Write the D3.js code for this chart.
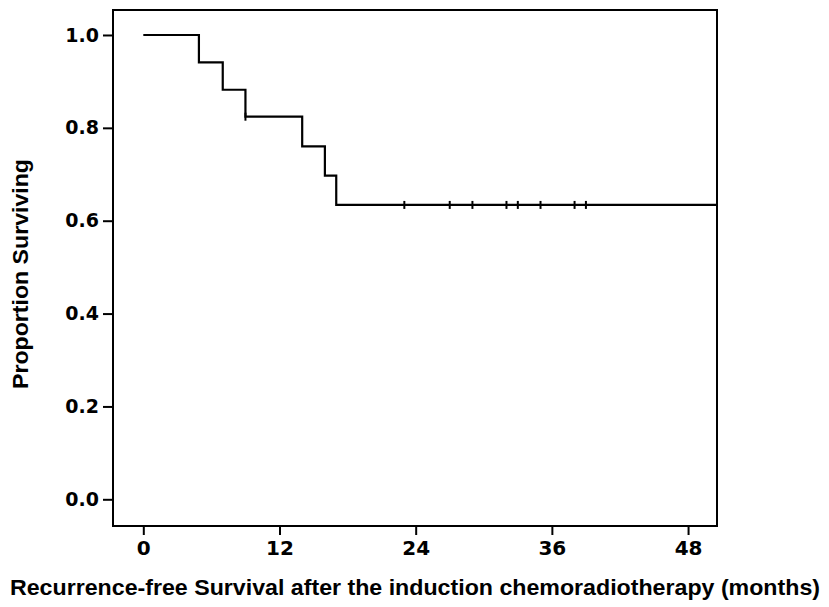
<!DOCTYPE html>
<html>
<head>
<meta charset="utf-8">
<script src="https://cdn.jsdelivr.net/npm/d3@7"></script>
<style>
  body { margin: 0; background: #fff; }
  svg { display: block; }
</style>
</head>
<body>
<svg id="chart"></svg>
<script>
// Kaplan-Meier steps (months, proportion surviving)
const stepTimes = [0, 4.9, 7, 9, 14, 16, 17];
const survival = [1.0, 0.941, 0.882, 0.824, 0.760, 0.697, 0.634];
// censored observations (months)
const censorTimes = [9, 23, 27, 29, 32, 33, 35, 38, 39];
const lastFollowUp = 50.6;

const xTicks = [0, 12, 24, 36, 48];
const yTicks = [0.0, 0.2, 0.4, 0.6, 0.8, 1.0];

const xTitle = "Recurrence-free Survival after the induction chemoradiotherapy (months)";
const yTitle = "Proportion Surviving";

const width = 829;
const height = 607;
const margin = { top: 10, right: 112, bottom: 81, left: 113 };
const innerWidth = width - margin.left - margin.right;
const innerHeight = height - margin.top - margin.bottom;

const svg = d3.select("#chart").attr("width", width).attr("height", height);

const g = svg.append("g")
  .attr("transform", `translate(${margin.left},${margin.top})`);

// Scales
const x = d3.scaleLinear().domain([-2.67, 50.55]).range([0, innerWidth]);
const y = d3.scaleLinear().domain([-0.0575, 1.0538]).range([innerHeight, 0]);

// Axes
const yAxis = g.append("g")
  .call(d3.axisLeft(y).tickValues(yTicks).tickFormat(d3.format(".1f"))
    .tickSize(10).tickPadding(4));
const xAxis = g.append("g")
  .attr("transform", `translate(0,${innerHeight})`)
  .call(d3.axisBottom(x).tickValues(xTicks).tickSize(9).tickPadding(6));

[xAxis, yAxis].forEach(a => {
  a.attr("font-family", "'DejaVu Sans', sans-serif")
    .attr("font-size", 19)
    .attr("font-weight", "bold");
  a.select(".domain").remove();
  a.selectAll(".tick line").attr("stroke", "#000").attr("stroke-width", 2);
  a.selectAll(".tick text").attr("fill", "#000");
});
xAxis.attr("font-size", 20);
yAxis.selectAll(".tick text").attr("text-anchor", "end");
xAxis.selectAll(".tick text").attr("text-anchor", "middle");

// Frame
g.append("rect")
  .attr("width", innerWidth)
  .attr("height", innerHeight)
  .attr("fill", "none")
  .attr("stroke", "#000")
  .attr("stroke-width", 2);

// Survival curve
const pts = stepTimes.map((t, i) => [t, survival[i]]);
pts.push([lastFollowUp, survival[survival.length - 1]]);

const line = d3.line()
  .x(d => x(d[0]))
  .y(d => y(d[1]))
  .curve(d3.curveStepAfter);

g.append("defs").append("clipPath").attr("id", "clip")
  .append("rect").attr("width", innerWidth).attr("height", innerHeight);

g.append("path")
  .datum(pts)
  .attr("clip-path", "url(#clip)")
  .attr("fill", "none")
  .attr("stroke", "#000")
  .attr("stroke-width", 2.2)
  .attr("d", line);

// Censor marks
const survAt = t => survival[d3.bisectRight(stepTimes, t) - 1];
g.selectAll(".censor")
  .data(censorTimes)
  .join("line")
  .attr("class", "censor")
  .attr("x1", d => x(d))
  .attr("x2", d => x(d))
  .attr("y1", d => y(survAt(d)) - 4)
  .attr("y2", d => y(survAt(d)) + 4)
  .attr("stroke", "#000")
  .attr("stroke-width", 2);

// Axis titles
svg.append("text")
  .attr("x", 415)
  .attr("y", 595)
  .attr("text-anchor", "middle")
  .attr("textLength", 810)
  .attr("lengthAdjust", "spacingAndGlyphs")
  .attr("font-family", "'Liberation Sans', Arial, sans-serif")
  .attr("font-weight", "bold")
  .attr("font-size", 22)
  .text(xTitle);

svg.append("text")
  .attr("transform", "rotate(-90)")
  .attr("x", -274)
  .attr("y", 28)
  .attr("text-anchor", "middle")
  .attr("textLength", 230)
  .attr("lengthAdjust", "spacingAndGlyphs")
  .attr("font-family", "'Liberation Sans', Arial, sans-serif")
  .attr("font-weight", "bold")
  .attr("font-size", 22)
  .text(yTitle);
</script>
</body>
</html>
